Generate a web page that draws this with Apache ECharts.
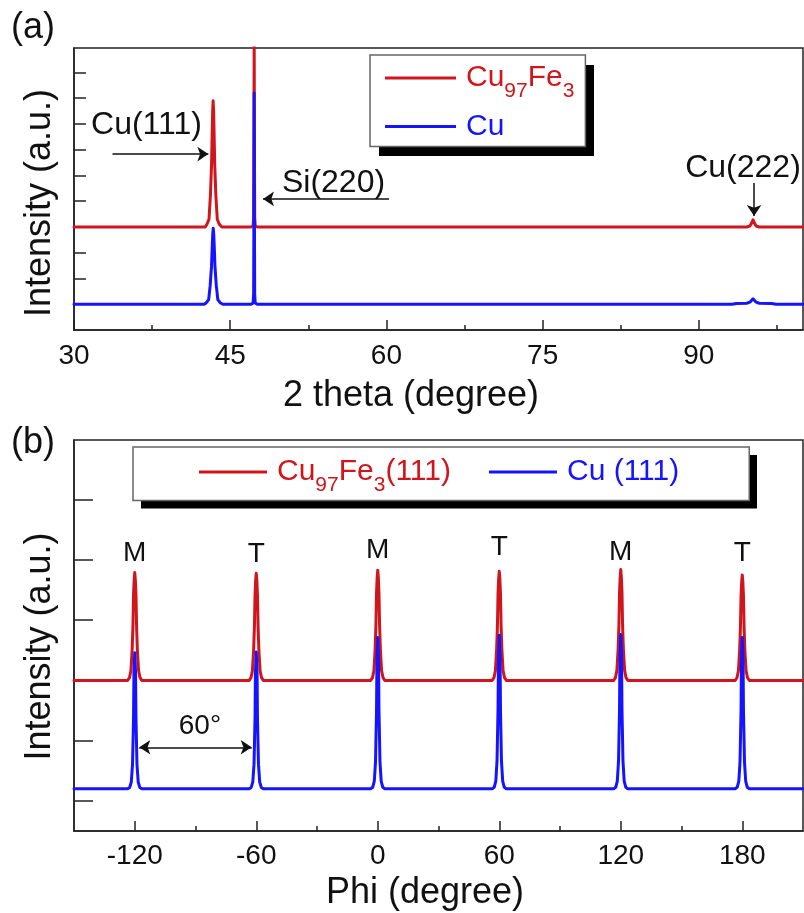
<!DOCTYPE html>
<html><head><meta charset="utf-8">
<script src="https://cdn.jsdelivr.net/npm/echarts@6/dist/echarts.min.js"></script>
<style>html,body{margin:0;padding:0;background:#fff}#c{width:804px;height:913px}</style>
</head><body><div id="c"></div>
<script>
const FONT = "'Liberation Sans', Arial, Helvetica, sans-serif";
const RED = '#d0161c', BLUE = '#1414ff', INK = '#111';

// ---------- panel (a): 2 theta scan ----------
const seriesNamesA = ['Cu97Fe3', 'Cu'];
const thetaTicks = [30, 45, 60, 75, 90];
const thetaMinorTicks = [37.5, 52.5, 67.5, 82.5, 97.5];
const intensityTicksA = [1, 2, 3, 4, 5, 6, 7, 8, 9, 10];
const xrdCu97Fe3 = [
  [30,4.0],[42.6,4.0],[42.76,4.10],[42.96,4.29],[43.10,5.23],[43.21,6.45],[43.27,7.68],[43.315,8.51],[43.36,8.9],
  [43.405,8.51],[43.45,7.68],[43.51,6.45],[43.62,5.23],[43.76,4.29],[43.96,4.10],[44.2,4.0],
  [47.0,4.0],[47.2,4.05],[47.25,4.4],[47.28,8.0],[47.3,11.5],[47.32,8.0],[47.35,4.4],[47.4,4.05],[47.6,4.0],
  [94.6,4.0],[94.9,4.04],[95.05,4.14],[95.2,4.28],[95.35,4.14],[95.5,4.04],[95.8,4.0],[100,4.0]
];
const xrdCu = [
  [30,1.0],[42.5,1.0],[42.71,1.06],[42.93,1.18],[43.08,1.74],[43.205,2.48],[43.27,3.21],[43.32,3.71],[43.37,3.95],
  [43.42,3.71],[43.47,3.21],[43.535,2.48],[43.66,1.74],[43.81,1.18],[44.03,1.06],[44.3,1.0],
  [47.0,1.0],[47.2,1.05],[47.25,1.4],[47.28,5.0],[47.3,9.2],[47.32,5.0],[47.35,1.4],[47.4,1.05],[47.6,1.0],
  [93.2,1.0],[93.6,1.03],[94.6,1.04],[94.9,1.08],[95.05,1.14],[95.2,1.21],[95.35,1.14],[95.5,1.08],[95.8,1.04],
  [97.0,1.03],[97.4,1.0],[100,1.0]
];
const peakNotesA = ['Cu(111)', 'Si(220)', 'Cu(222)'];

// ---------- panel (b): phi scan ----------
const seriesNamesB = ['Cu97Fe3(111)', 'Cu (111)'];
const phiTicks = [-120, -60, 0, 60, 120, 180];
const phiMinorTicks = [-90, -30, 30, 90, 150];
const intensityTicksB = [0, 1, 2, 3, 4, 5];
const phiCu97Fe3 = [
  [-150,2.0],
  [-123.5,2.0],[-122.6,2.045],[-121.9,2.16],[-121.3,2.50],[-120.9,2.90],[-120.6,3.43],[-120.3,3.66],[-120,3.79],[-119.7,3.66],[-119.4,3.43],[-119.1,2.90],[-118.7,2.50],[-118.1,2.16],[-117.4,2.045],[-116.5,2.0],
  [-63.5,2.0],[-62.6,2.045],[-61.9,2.16],[-61.3,2.50],[-60.9,2.89],[-60.6,3.42],[-60.3,3.66],[-60,3.78],[-59.7,3.66],[-59.4,3.42],[-59.1,2.89],[-58.7,2.50],[-58.1,2.16],[-57.4,2.045],[-56.5,2.0],
  [-3.5,2.0],[-2.6,2.046],[-1.9,2.16],[-1.3,2.51],[-0.9,2.92],[-0.6,3.46],[-0.3,3.70],[0,3.83],[0.3,3.70],[0.6,3.46],[0.9,2.92],[1.3,2.51],[1.9,2.16],[2.6,2.046],[3.5,2.0],
  [56.5,2.0],[57.4,2.045],[58.1,2.16],[58.7,2.51],[59.1,2.91],[59.4,3.45],[59.7,3.68],[60,3.81],[60.3,3.68],[60.6,3.45],[60.9,2.91],[61.3,2.51],[61.9,2.16],[62.6,2.045],[63.5,2.0],
  [116.5,2.0],[117.4,2.046],[118.1,2.17],[118.7,2.52],[119.1,2.92],[119.4,3.47],[119.7,3.71],[120,3.84],[120.3,3.71],[120.6,3.47],[120.9,2.92],[121.3,2.52],[121.9,2.17],[122.6,2.046],[123.5,2.0],
  [176.5,2.0],[177.4,2.044],[178.1,2.16],[178.7,2.49],[179.1,2.88],[179.4,3.40],[179.7,3.63],[180,3.75],[180.3,3.63],[180.6,3.40],[180.9,2.88],[181.3,2.49],[181.9,2.16],[182.6,2.044],[183.5,2.0],
  [210,2.0]
];
const phiCu = [
  [-150,0.2],
  [-123.5,0.2],[-122.5,0.223],[-121.7,0.313],[-121.1,0.607],[-120.6,1.375],[-120.4,2.12],[-120.2,2.30],[-120,2.46],[-119.8,2.30],[-119.6,2.12],[-119.4,1.375],[-118.9,0.607],[-118.3,0.313],[-117.5,0.223],[-116.5,0.2],
  [-63.5,0.2],[-62.5,0.223],[-61.7,0.314],[-61.1,0.61],[-60.6,1.38],[-60.4,2.13],[-60.2,2.31],[-60,2.47],[-59.8,2.31],[-59.6,2.13],[-59.4,1.38],[-58.9,0.61],[-58.3,0.314],[-57.5,0.223],[-56.5,0.2],
  [-3.5,0.2],[-2.5,0.225],[-1.7,0.326],[-1.1,0.652],[-0.6,1.505],[-0.4,2.33],[-0.2,2.53],[0,2.71],[0.2,2.53],[0.4,2.33],[0.6,1.505],[1.1,0.652],[1.7,0.326],[2.5,0.225],[3.5,0.2],
  [56.5,0.2],[57.5,0.226],[58.3,0.328],[58.9,0.659],[59.4,1.526],[59.6,2.37],[59.8,2.57],[60,2.75],[60.2,2.57],[60.4,2.37],[60.6,1.526],[61.1,0.659],[61.7,0.328],[62.5,0.226],[63.5,0.2],
  [116.5,0.2],[117.5,0.226],[118.3,0.328],[118.9,0.66],[119.4,1.53],[119.6,2.38],[119.8,2.58],[120,2.76],[120.2,2.58],[120.4,2.38],[120.6,1.53],[121.1,0.66],[121.7,0.328],[122.5,0.226],[123.5,0.2],
  [176.5,0.2],[177.5,0.225],[178.3,0.326],[178.9,0.652],[179.4,1.505],[179.6,2.33],[179.8,2.53],[180,2.71],[180.2,2.53],[180.4,2.33],[180.6,1.505],[181.1,0.652],[181.7,0.326],[182.5,0.225],[183.5,0.2],
  [210,0.2]
];
const domainLabels = ['M', 'T', 'M', 'T', 'M', 'T'];
const domainLabelY = [4.11, 4.10, 4.16, 4.21, 4.13, 4.11];
const spacingNote = '60°';

// ---------- helpers ----------
const richStyles = {
  g:  { width: 5 },
  rn: { color: RED, fontSize: 30, fontFamily: FONT },
  rs: { color: RED, fontSize: 21, padding: [26, 0, 0, 0], fontFamily: FONT },
  bn: { color: BLUE, fontSize: 30, fontFamily: FONT }
};
function fmtName(name) {
  if (name.indexOf('Cu97Fe3') === 0) {
    return '{g|}{rn|Cu}{rs|97}{rn|Fe}{rs|3}' + (name.length > 7 ? '{rn|' + name.slice(7) + '}' : '');
  }
  return '{g|}{bn|' + name + '}';
}
const axisLineStyle = { color: '#222', width: 1.5 };
function xAxisMain(grid, min, max, ticks, name, gap, margin, pad) {
  return {
    gridIndex: grid, type: 'value', min: min, max: max, position: 'bottom',
    axisLine: { show: true, onZero: false, lineStyle: axisLineStyle },
    axisTick: { show: true, inside: true, length: 10, customValues: ticks, lineStyle: axisLineStyle },
    axisLabel: { show: true, customValues: ticks, fontSize: 28, color: INK, margin: margin, fontFamily: FONT },
    splitLine: { show: false },
    name: name, nameLocation: 'middle', nameGap: gap,
    nameTextStyle: { fontSize: 36, color: INK, fontFamily: FONT, padding: pad }
  };
}
function xAxisMinor(grid, min, max, ticks) {
  return {
    gridIndex: grid, type: 'value', min: min, max: max, position: 'bottom',
    axisLine: { show: false, onZero: false },
    axisTick: { show: true, inside: true, length: 5, customValues: ticks, lineStyle: axisLineStyle },
    axisLabel: { show: false }, splitLine: { show: false }
  };
}
function yAxisDef(grid, min, max, ticks, len, pad) {
  return {
    gridIndex: grid, type: 'value', min: min, max: max,
    axisLine: { show: true, onZero: false, lineStyle: axisLineStyle },
    axisTick: { show: true, inside: true, length: len, customValues: ticks, lineStyle: axisLineStyle },
    axisLabel: { show: false }, splitLine: { show: false },
    name: 'Intensity (a.u.)', nameLocation: 'middle', nameGap: 16,
    nameTextStyle: { fontSize: 36, color: INK, fontFamily: FONT, padding: pad }
  };
}
const arrowLine = {
  silent: true, symbolSize: 11, label: { show: false },
  lineStyle: { color: INK, width: 1.5, type: 'solid' },
  emphasis: { disabled: true }
};
const noteStyle = {
  silent: true, symbol: 'circle', symbolSize: 1, itemStyle: { color: 'rgba(0,0,0,0)' },
  emphasis: { disabled: true }
};
function lineSeries(name, xi, yi, data, color, z) {
  return {
    name: name, type: 'line', xAxisIndex: xi, yAxisIndex: yi, data: data,
    showSymbol: false, symbol: 'none', smooth: false, clip: true, z: z,
    lineStyle: { color: color, width: 3, join: 'round', cap: 'round' },
    itemStyle: { color: color }, emphasis: { disabled: true }, silent: true
  };
}

const sA1 = lineSeries(seriesNamesA[0], 0, 0, xrdCu97Fe3, RED, 2);
sA1.markLine = Object.assign({}, arrowLine, {
  symbol: ['none', 'arrow'],
  data: [
    [{ coord: [33.7, 6.83] }, { coord: [42.9, 6.83] }],
    [{ coord: [60.25, 5.09] }, { coord: [48.15, 5.09] }],
    [{ coord: [95.3, 5.71] }, { coord: [95.3, 4.43] }]
  ]
});
sA1.markPoint = Object.assign({}, noteStyle, {
  label: { show: true, position: 'inside', color: INK, fontSize: 32, fontFamily: FONT, formatter: p => p.name },
  data: [
    { name: peakNotesA[0], coord: [36.96, 7.96] },
    { name: peakNotesA[1], coord: [54.92, 5.71] },
    { name: peakNotesA[2], coord: [94.24, 6.29] }
  ]
});
const sA2 = lineSeries(seriesNamesA[1], 0, 0, xrdCu, BLUE, 3);

const sB1 = lineSeries(seriesNamesB[0], 2, 1, phiCu97Fe3, RED, 2);
sB1.markPoint = Object.assign({}, noteStyle, {
  label: { show: true, position: 'inside', color: INK, fontSize: 28, fontFamily: FONT, formatter: p => p.name },
  data: phiTicks.map((x, i) => ({ name: domainLabels[i], coord: [x, domainLabelY[i]] }))
    .concat([{ name: spacingNote, coord: [-87.8, 1.23] }])
});
sB1.markLine = Object.assign({}, arrowLine, {
  symbol: ['arrow', 'arrow'],
  data: [[{ coord: [-117.75, 0.89] }, { coord: [-62.25, 0.89] }]]
});
const sB2 = lineSeries(seriesNamesB[1], 2, 1, phiCu, BLUE, 3);

const legendCommon = {
  icon: 'rect', itemWidth: 71, itemHeight: 3, selectedMode: false,
  backgroundColor: '#fff', borderColor: '#666', borderWidth: 1.5, borderRadius: 0,
  formatter: fmtName, z: 6,
  textStyle: { fontSize: 30, fontFamily: FONT, rich: richStyles }
};

const option = {
  animation: false,
  backgroundColor: '#fff',
  textStyle: { fontFamily: FONT },
  title: [
    { text: '(a)', left: 11, top: 10, padding: 0, textStyle: { fontSize: 36, fontWeight: 'normal', color: INK, fontFamily: FONT } },
    { text: '(b)', left: 11, top: 425, padding: 0, textStyle: { fontSize: 36, fontWeight: 'normal', color: INK, fontFamily: FONT } }
  ],
  legend: [
    Object.assign({}, legendCommon, {
      data: seriesNamesA, orient: 'vertical', left: 370, top: 55, itemGap: 10, padding: [8, 11, 5, 15]
    }),
    Object.assign({}, legendCommon, {
      data: seriesNamesB, orient: 'horizontal', left: 133, top: 447, itemWidth: 68, itemGap: 38, padding: [10, 70, 5, 66]
    })
  ],
  // hard drop shadows behind the two legend boxes
  graphic: [
    { type: 'rect', z: 5, silent: true, shape: { x: 379, y: 65, width: 215, height: 91 }, style: { fill: '#000' } },
    { type: 'rect', z: 5, silent: true, shape: { x: 141, y: 455, width: 616, height: 53.5 }, style: { fill: '#000' } }
  ],
  grid: [
    { left: 74, top: 48, right: 1, height: 282, show: true, borderColor: '#222', borderWidth: 1.5, backgroundColor: 'transparent', containLabel: false, outerBoundsMode: 'none' },
    { left: 74, top: 440, right: 1, height: 391, show: true, borderColor: '#222', borderWidth: 1.5, backgroundColor: 'transparent', containLabel: false, outerBoundsMode: 'none' }
  ],
  xAxis: [
    xAxisMain(0, 30, 100, thetaTicks, '2 theta (degree)', 48, 12, [0, 55, 0, 0]),
    xAxisMinor(0, 30, 100, thetaMinorTicks),
    xAxisMain(1, -150, 210, phiTicks, 'Phi (degree)', 44, 11, [0, 27, 0, 0]),
    xAxisMinor(1, -150, 210, phiMinorTicks)
  ],
  yAxis: [
    yAxisDef(0, 0, 10.95, intensityTicksA, 12, [0, 28, 0, 0]),
    yAxisDef(1, -0.5, 5.99, intensityTicksB, 19, [0, 22, 0, 0])
  ],
  series: [sA1, sA2, sB1, sB2]
};
const chart = echarts.init(document.getElementById('c'), null, { renderer: 'canvas' });
chart.setOption(option);
</script>
</body></html>
